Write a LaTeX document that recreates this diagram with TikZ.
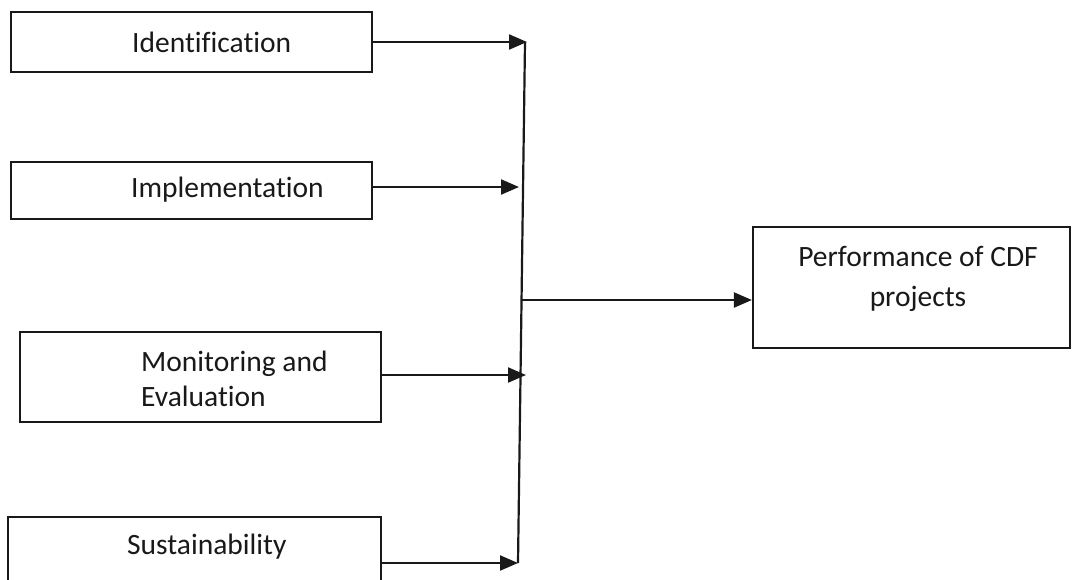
\documentclass[tikz,border=0pt]{standalone}
\usepackage{fontspec}
\setmainfont[Ligatures=NoCommon]{Carlito}
\usetikzlibrary{arrows.meta}
\definecolor{ink}{RGB}{25,25,25}
\begin{document}
\begin{tikzpicture}[x=1pt,y=-1pt,
  box/.style={draw=ink, line width=2.2pt, inner sep=0pt},
  lbl/.style={text=ink, font=\fontsize{29.5}{35}\selectfont, inner sep=0pt, anchor=west, align=left},
  clbl/.style={text=ink, font=\fontsize{29.5}{40}\selectfont, inner sep=0pt, align=center},
  conn/.style={draw=ink, line width=2.2pt},
  arr/.style={conn, -{Triangle[length=18pt,width=15pt]}}]
\useasboundingbox (0,0) rectangle (1074,579);
\fill[white] (0,0) rectangle (1074,579);
% boxes
\node[box, minimum width=361pt, minimum height=60pt] (id) at (191.5,42) {};
\node[box, minimum width=361pt, minimum height=57pt] (impl) at (191.5,190.5) {};
\node[box, minimum width=361pt, minimum height=90pt] (mon) at (200.5,377) {};
\node[box, minimum width=373pt, minimum height=100pt] (sus) at (194.5,567) {};
\node[box, minimum width=317pt, minimum height=121pt] (perf) at (911.5,287.5) {};
% labels
\node[lbl] (idl) at (132,42) {Identification};
\node[lbl] (impll) at (131,190) {Implementation};
\node[lbl] (monl) at (141,379) {Monitoring and\\Evaluation};
\node[lbl] (susl) at (127,547) {Sustainability};
\node[clbl] (perfl) at (918,279) {Performance of CDF\\projects};
% bus line
\coordinate (top) at (525,42);
\coordinate (bot) at (518,563);
\coordinate (mid) at (520.5,300);
\draw[conn] (top) -- (bot);
% arrows
\draw[arr] (id.east |- 0,42) -- (527,42);
\draw[arr] (impl.east |- 0,187) -- (519,187);
\draw[arr] (mon.east |- 0,375) -- (526,375);
\draw[arr] (381,563) -- (bot);
\draw[arr] (mid) -- (perf.west |- mid);
\end{tikzpicture}
\end{document}
